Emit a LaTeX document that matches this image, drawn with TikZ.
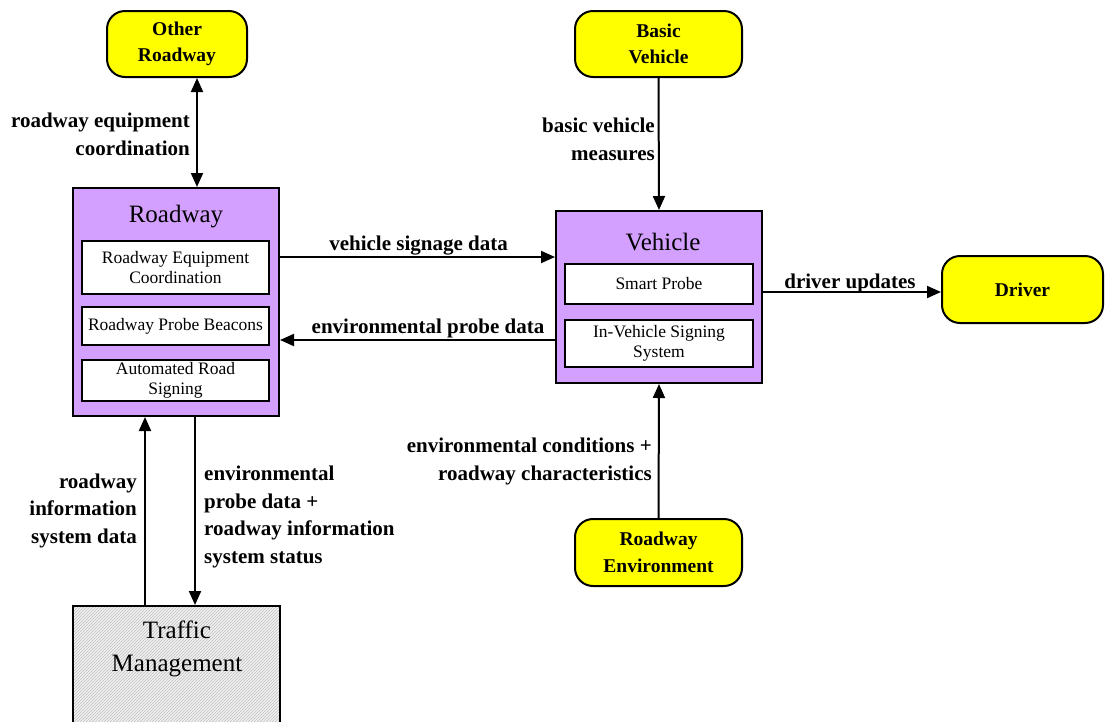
\documentclass[tikz,border=0pt]{standalone}
\usepackage{fontspec}
\setmainfont{Liberation Serif}
\usetikzlibrary{arrows.meta,patterns}
\definecolor{purp}{RGB}{212,160,255}
\definecolor{yel}{RGB}{255,255,0}
\begin{document}
\begin{tikzpicture}[x=1pt,y=-1pt,
  >={Triangle[length=14pt,width=12pt]},
  ext/.style={draw=black,line width=2pt,fill=yel,rounded corners=18pt,inner sep=0pt,align=center,font=\bfseries\fontsize{19.5}{26.5}\selectfont},
  sys/.style={draw=black,line width=2pt,fill=purp,inner sep=0pt},
  sub/.style={draw=black,line width=1.5pt,fill=white,inner sep=0pt,align=center,font=\fontsize{17.5}{20}\selectfont},
  ttl/.style={inner sep=0pt,font=\fontsize{25}{28}\selectfont},
  lbl/.style={inner sep=0pt,font=\bfseries\fontsize{21}{27.5}\selectfont},
  conn/.style={line width=2pt},
]
\clip (0,0) rectangle (1105,721);
\fill[white] (0,0) rectangle (1105,721);

% external yellow nodes
\node[ext,minimum width=140pt,minimum height=66pt] (OR) at (177,44) {Other\\Roadway};
\node[ext,minimum width=167pt,minimum height=66pt] (BV) at (658.5,44) {Basic\\Vehicle};
\node[ext,minimum width=161pt,minimum height=67pt] (DR) at (1022.5,289.5) {Driver};
\node[ext,minimum width=167pt,minimum height=67pt] (RE) at (658.5,552.5) {Roadway\\Environment};

% Roadway subsystem
\node[sys,minimum width=206pt,minimum height=228pt] (RW) at (176,302) {};
\node[ttl] (RWt) at (176,217) {Roadway};
\node[sub,minimum width=187pt,minimum height=53pt] (REC) at (175.5,267.5) {Roadway Equipment\\Coordination};
\node[sub,minimum width=187pt,minimum height=38pt] (RPB) at (175.5,326) {Roadway Probe Beacons};
\node[sub,minimum width=187pt,minimum height=41pt] (ARS) at (175.5,380.5) {Automated Road\\Signing};

% Vehicle subsystem
\node[sys,minimum width=206pt,minimum height=172pt] (VE) at (659,297) {};
\node[ttl] (VEt) at (663,242) {Vehicle};
\node[sub,minimum width=188pt,minimum height=40pt] (SP) at (659,284) {Smart Probe};
\node[sub,minimum width=188pt,minimum height=47pt] (IVS) at (659,343.5) {In-Vehicle Signing\\System};

% Traffic Management (cut at bottom)
\node[draw=black,line width=2pt,minimum width=207pt,minimum height=134pt,inner sep=0pt,
      preaction={fill=gray!10},pattern=north east lines,pattern color=gray!50] (TM) at (176.5,673) {};
\node[inner sep=0pt,align=center,font=\fontsize{25}{33}\selectfont] (TMt) at (177,648.5) {Traffic\\Management};

% connectors
\draw[conn,<->] ([xshift=20pt]OR.south) -- ([xshift=21pt]RW.north);
\draw[conn,->] (BV.south) -- (VE.north);
\draw[conn,->] (RW.east |- 0,257) -- (VE.west |- 0,257);
\draw[conn,->] (VE.west |- 0,340) -- (RW.east |- 0,340);
\draw[conn,->] (VE.east |- 0,292) -- (DR.west |- 0,292);
\draw[conn,->] (RE.north) -- (VE.south);
\draw[conn,->] (TM.north -| 145,0) -- (RW.south -| 145,0);
\draw[conn,->] (RW.south -| 195,0) -- (TM.north -| 195,0);

% labels
\node[lbl,anchor=base] (l1) at (418.5,250) {vehicle signage data};
\node[lbl,anchor=base] (l2) at (428,333) {environmental probe data};
\node[lbl,anchor=base] (l3) at (850,288) {driver updates};
\node[lbl,anchor=base east,align=right] (l4) at (190,155) {roadway equipment\\coordination};
\node[lbl,anchor=base east,align=right] (l5) at (655,160) {basic vehicle\\measures};
\node[lbl,anchor=base east,align=right] (l6) at (652,480) {environmental conditions +\\roadway characteristics};
\node[lbl,anchor=base east,align=right] (l7) at (137,543) {roadway\\information\\system data};
\node[lbl,anchor=base west,align=left] (l8) at (204,563) {environmental\\probe data +\\roadway information\\system status};
\end{tikzpicture}
\end{document}
